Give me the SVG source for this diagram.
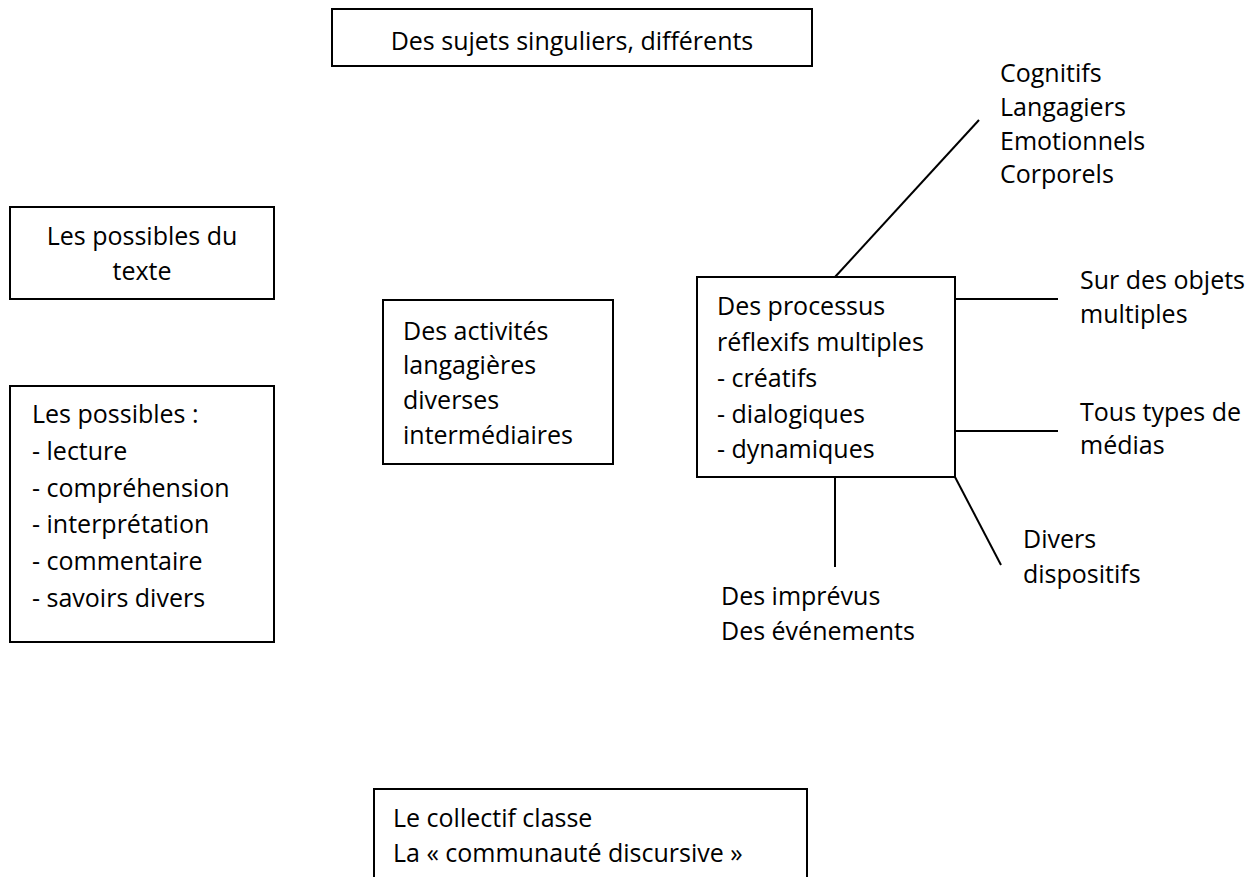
<svg xmlns="http://www.w3.org/2000/svg" width="1258" height="877" viewBox="0 0 1258 877">
<style>
.box{fill:#fff;stroke:#000;stroke-width:2}
.ln{stroke:#000;stroke-width:2;fill:none}
text{font-family:"Open Sans","Noto Sans","Liberation Sans",sans-serif;font-size:25px;fill:#000;font-variant-ligatures:none}
.c{text-anchor:middle}
</style>
<rect width="1258" height="877" fill="#fff"/>
<g id="connectors">
<line class="ln" x1="835" y1="277" x2="979" y2="120"/>
<line class="ln" x1="955" y1="299" x2="1058" y2="299"/>
<line class="ln" x1="955" y1="431" x2="1058" y2="431"/>
<line class="ln" x1="955" y1="477" x2="1001" y2="565"/>
<line class="ln" x1="835" y1="477" x2="835" y2="567"/>
</g>
<g id="n-sujets">
<rect class="box" x="332" y="9" width="480" height="57"/>
<text class="c" x="572" y="50">Des sujets singuliers, différents</text>
</g>
<g id="n-possibles-texte">
<rect class="box" x="10" y="207" width="264" height="92"/>
<text class="c" x="142" y="245">Les possibles du</text>
<text class="c" x="142" y="280">texte</text>
</g>
<g id="n-possibles">
<rect class="box" x="10" y="386" width="264" height="256"/>
<text x="32" y="423">Les possibles :</text>
<text x="32" y="460">- lecture</text>
<text x="32" y="497">- compréhension</text>
<text x="32" y="533">- interprétation</text>
<text x="32" y="570">- commentaire</text>
<text x="32" y="607">- savoirs divers</text>
</g>
<g id="n-activites">
<rect class="box" x="383" y="300" width="230" height="164"/>
<text x="403" y="340">Des activités</text>
<text x="403" y="374">langagières</text>
<text x="403" y="409">diverses</text>
<text x="403" y="444">intermédiaires</text>
</g>
<g id="n-processus">
<rect class="box" x="697" y="277" width="258" height="200"/>
<text x="717" y="315">Des processus</text>
<text x="717" y="351">réflexifs multiples</text>
<text x="717" y="387">- créatifs</text>
<text x="717" y="423">- dialogiques</text>
<text x="717" y="458">- dynamiques</text>
</g>
<g id="n-cognitifs">
<text x="1000" y="82">Cognitifs</text>
<text x="1000" y="116">Langagiers</text>
<text x="1000" y="150">Emotionnels</text>
<text x="1000" y="183">Corporels</text>
</g>
<g id="n-objets">
<text x="1080" y="289">Sur des objets</text>
<text x="1080" y="323">multiples</text>
</g>
<g id="n-medias">
<text x="1080" y="421">Tous types de</text>
<text x="1080" y="454">médias</text>
</g>
<g id="n-dispositifs">
<text x="1023" y="548">Divers</text>
<text x="1023" y="583">dispositifs</text>
</g>
<g id="n-imprevus">
<text x="721" y="605">Des imprévus</text>
<text x="721" y="640">Des événements</text>
</g>
<g id="n-collectif">
<rect class="box" x="374" y="789" width="433" height="100"/>
<text x="393" y="827">Le collectif classe</text>
<text x="393" y="862">La « communauté discursive »</text>
</g>
</svg>
